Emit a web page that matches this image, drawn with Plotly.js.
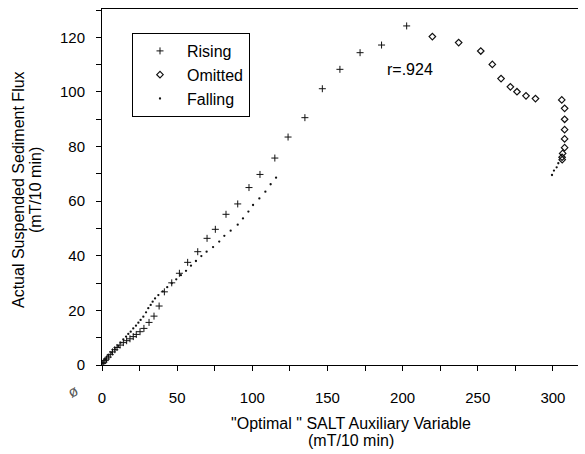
<!DOCTYPE html>
<html>
<head>
<meta charset="utf-8">
<script src="https://cdn.plot.ly/plotly-3.0.1.min.js"></script>
<style>html,body{margin:0;padding:0;background:#fff;}#chart{width:585px;height:454px;}</style>
</head>
<body>
<div id="chart"></div>
<script>
var risingX = [0.5, 1.2, 2.0, 3.0, 4.2, 5.5, 7.0, 8.5, 10.0, 12.0, 14.2, 16.4, 18.6, 20.8, 22.8, 25.3, 27.9, 31.3, 34.6, 38.0, 41.5, 46.4, 51.5, 57.0, 63.7, 69.9, 75.4, 82.5, 90.3, 97.8, 105.1, 115.0, 123.8, 135.0, 146.6, 158.3, 171.7, 186.0, 202.7];
var risingY = [0.6, 1.0, 1.6, 2.2, 2.9, 3.8, 4.8, 5.6, 6.4, 7.3, 8.2, 8.9, 9.6, 10.4, 11.2, 12.2, 13.4, 15.6, 17.9, 21.6, 26.8, 30.1, 33.6, 37.6, 41.5, 46.4, 49.7, 55.2, 59.0, 65.0, 69.8, 75.8, 83.5, 90.6, 101.2, 108.3, 114.4, 117.2, 124.2];

var omittedX = [219.8, 237.3, 252.0, 259.7, 265.5, 271.7, 276.1, 282.1, 288.4, 305.9, 307.8, 307.8, 307.8, 307.8, 307.8, 306.5, 306.1, 306.2];
var omittedY = [120.3, 118.1, 115.0, 110.1, 104.9, 101.9, 100.1, 98.6, 97.6, 97.1, 94.0, 90.0, 86.2, 82.8, 79.6, 77.5, 76.1, 75.2];

var fallingX = [0.5, 2.0, 4.2, 6.5, 8.6, 10.8, 12.4, 14.2, 16.0, 17.5, 19.1, 20.8, 22.6, 24.2, 25.7, 27.5, 29.3, 30.8, 32.4, 33.7, 35.3, 37.5, 40.4, 43.4, 46.4, 49.4, 52.5, 55.9, 59.2, 62.5, 66.1, 69.6, 73.9, 78.0, 81.4, 85.6, 90.3, 93.8, 97.4, 100.5, 104.7, 108.7, 112.2, 115.8, 299.4, 300.7, 302.5, 303.6];
var fallingY = [0.8, 2.1, 3.3, 4.5, 5.7, 7.0, 8.2, 9.4, 10.4, 11.4, 12.2, 13.4, 14.4, 15.5, 16.5, 17.7, 19.3, 20.8, 22.0, 23.2, 24.4, 25.6, 27.0, 28.5, 29.9, 31.4, 32.9, 34.5, 36.4, 38.1, 39.9, 41.5, 43.2, 45.2, 47.3, 49.2, 51.4, 53.7, 56.2, 58.6, 61.0, 63.5, 66.2, 68.6, 69.6, 71.2, 72.4, 73.9];

var seriesNames = ["Rising", "Omitted", "Falling"];
var corrLabel = "r=.924";
var xTitleLines = ['"Optimal " SALT Auxiliary Variable', '(mT/10 min)'];
var yTitleLines = ['Actual Suspended Sediment Flux', '(mT/10 min)'];

var FONT = "Liberation Sans, Arial, Helvetica, sans-serif";
var W = 585, H = 454, L = 102, R = 7, T = 9, B = 89;
var pw = W - L - R, ph = H - T - B;
function px2paperX(p){ return (p - L) / pw; }
function px2paperY(p){ return (H - B - p) / ph; }

var traces = [
  {x: risingX, y: risingY, name: seriesNames[0], type: 'scatter', mode: 'markers',
   marker: {symbol: 'cross-thin', size: 5, color: '#111', line: {color: '#111', width: 1}}},
  {x: omittedX, y: omittedY, name: seriesNames[1], type: 'scatter', mode: 'markers',
   marker: {symbol: 'diamond-open', size: 5, color: '#111', line: {color: '#111', width: 1.2}}},
  {x: fallingX, y: fallingY, name: seriesNames[2], type: 'scatter', mode: 'markers',
   marker: {symbol: 'circle', size: 2.3, color: '#111', line: {width: 0}}}
];

var layout = {
  width: W, height: H,
  margin: {l: L, r: R, t: T, b: B, pad: 0},
  paper_bgcolor: '#fff', plot_bgcolor: '#fff',
  font: {family: FONT, size: 15, color: '#000'},
  showlegend: true,
  legend: {x: px2paperX(132), y: px2paperY(33), xanchor: 'left', yanchor: 'top',
           bordercolor: '#000', borderwidth: 1, bgcolor: '#fff',
           font: {family: FONT, size: 16, color: '#000'}, itemwidth: 44, tracegroupgap: 0},
  xaxis: {range: [0, 316.7], showgrid: false, zeroline: false, showline: true, linecolor: '#000', linewidth: 1,
          mirror: true, ticks: 'outside', ticklen: 5, tickcolor: '#000', tickwidth: 1,
          tickmode: 'linear', tick0: 0, dtick: 50, ticklabelstandoff: 14,
          minor: {dtick: 25, ticks: 'outside', ticklen: 5, tickcolor: '#000', tickwidth: 1},
          tickfont: {family: FONT, size: 15, color: '#000'}},
  yaxis: {range: [0, 130.4], showgrid: false, zeroline: false, showline: true, linecolor: '#000', linewidth: 1,
          ticks: 'outside', ticklen: 5, tickcolor: '#000', tickwidth: 1,
          tickmode: 'linear', tick0: 0, dtick: 20, ticklabelstandoff: 8,
          minor: {dtick: 10, ticks: 'outside', ticklen: 5, tickcolor: '#000', tickwidth: 1},
          tickfont: {family: FONT, size: 15, color: '#000'}},
  annotations: [
    {text: corrLabel, x: 204.9, y: 108.4, xref: 'x', yref: 'y', showarrow: false,
     font: {family: FONT, size: 16, color: '#000'}},
    {text: xTitleLines[0], x: px2paperX(351), y: px2paperY(424), xref: 'paper', yref: 'paper', showarrow: false,
     xanchor: 'center', yanchor: 'middle', font: {family: FONT, size: 16, color: '#000'}},
    {text: xTitleLines[1], x: px2paperX(351), y: px2paperY(440), xref: 'paper', yref: 'paper', showarrow: false,
     xanchor: 'center', yanchor: 'middle', font: {family: FONT, size: 16, color: '#000'}},
    {text: yTitleLines[0], x: px2paperX(18), y: px2paperY(190), xref: 'paper', yref: 'paper', showarrow: false,
     xanchor: 'center', yanchor: 'middle', textangle: -90, font: {family: FONT, size: 16, color: '#000'}},
    {text: yTitleLines[1], x: px2paperX(35), y: px2paperY(190), xref: 'paper', yref: 'paper', showarrow: false,
     xanchor: 'center', yanchor: 'middle', textangle: -90, font: {family: FONT, size: 16, color: '#000'}},
    {text: 'ø', x: px2paperX(72), y: px2paperY(391), xref: 'paper', yref: 'paper', showarrow: false,
     xanchor: 'center', yanchor: 'middle', textangle: -30, font: {family: FONT, size: 15, color: '#555'}}
  ]
};

Plotly.newPlot('chart', traces, layout, {displayModeBar: false, staticPlot: true});
</script>
</body>
</html>
